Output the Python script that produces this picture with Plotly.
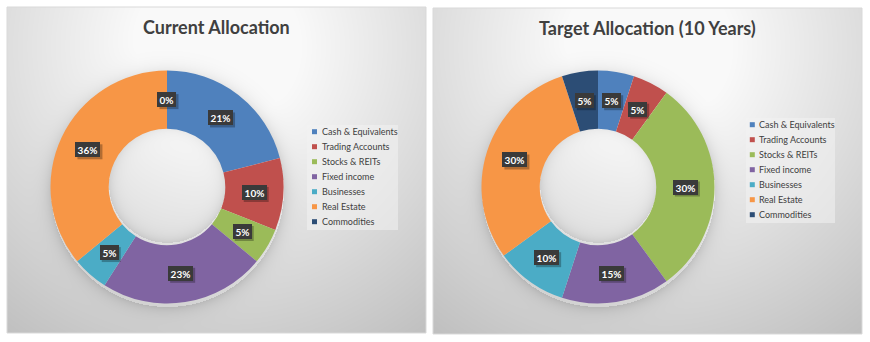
import base64
import math
import struct
import zlib

import numpy as np
import plotly.graph_objects as go

W, H = 870, 342

# ---- data ----
categories = ["Cash & Equivalents", "Trading Accounts", "Stocks & REITs",
              "Fixed income", "Businesses", "Real Estate", "Commodities"]
current_pct = [21, 10, 5, 23, 5, 36, 0]
target_pct = [5, 5, 30, 15, 10, 30, 5]
colors = ["#4F81BD", "#C0504D", "#9BBB59", "#8064A2", "#4BACC6", "#F79646", "#2C4D75"]
titles = ["Current Allocation", "Target Allocation (10 Years)"]

# ---- panel geometry (pixels, origin top-left) ----
panels = [
    dict(frame=(7, 7, 426, 333), center=(167, 187), radius=116.5,
         legend_box=(307, 125, 398, 230), legend_first_y=131.7,
         legend_sq_x=314.5, legend_text_x=319.5, title_xy=(216, 27)),
    dict(frame=(433, 8, 862, 334), center=(598, 187), radius=116.5,
         legend_box=(746, 118, 835, 223), legend_first_y=124.7,
         legend_sq_x=752.3, legend_text_x=756.5, title_xy=(647, 28)),
]
HOLE = 0.5
LEGEND_STEP = 15
TEXT_COLOR = "#404040"
FONT = "Lato"
LABEL_H = 11   # text area height of a data label box
LABEL_PAD = 2


def px(x):
    return x / W


def py(y):
    return 1 - y / H


def png_data_uri(rgb):
    h, w, _ = rgb.shape
    raw = b"".join(b"\x00" + rgb[r].tobytes() for r in range(h))

    def chunk(tag, data):
        c = struct.pack(">I", len(data)) + tag + data
        return c + struct.pack(">I", zlib.crc32(tag + data) & 0xFFFFFFFF)

    png = (b"\x89PNG\r\n\x1a\n"
           + chunk(b"IHDR", struct.pack(">IIBBBBB", w, h, 8, 2, 0, 0, 0))
           + chunk(b"IDAT", zlib.compress(raw, 9))
           + chunk(b"IEND", b""))
    return "data:image/png;base64," + base64.b64encode(png).decode()


def panel_background(p):
    x0, y0, x1, y1 = p["frame"]
    w, h = x1 - x0, y1 - y0
    yy, xx = np.mgrid[0:h, 0:w].astype(float)
    # radial gradient, brightest just below the title
    gx, gy = w / 2, 0.12 * h
    d = np.hypot(xx - gx, yy - gy)
    v = np.clip(267 - 0.211 * d, 0, 250)
    # soft shadow around the ring and inside the hole
    cx, cy = p["center"][0] - x0, p["center"][1] - y0
    r_out = p["radius"]
    r_in = r_out * HOLE
    rr = np.hypot(xx - cx, yy - cy - 3)
    outer = np.where(rr > r_out, 28 * np.exp(-(rr - r_out) / 7), 0)
    rr2 = np.hypot(xx - cx, yy - cy + 3)
    inner = np.where(rr2 < r_in, 22 * np.exp(-(r_in - rr2) / 6), 0)
    v = v - outer - inner
    v = np.clip(v, 0, 255).astype(np.uint8)
    return np.dstack([v, v, v])


fig = go.Figure()
shapes, annotations, images = [], [], []

for p, values, title in zip(panels, [current_pct, target_pct], titles):
    x0, y0, x1, y1 = p["frame"]
    images.append(dict(source=png_data_uri(panel_background(p)), xref="paper", yref="paper",
                       x=px(x0), y=py(y0), sizex=px(x1) - px(x0), sizey=py(y0) - py(y1),
                       xanchor="left", yanchor="top", sizing="stretch", layer="below"))
    shapes.append(dict(type="rect", xref="paper", yref="paper",
                       x0=px(x0), x1=px(x1), y0=py(y1), y1=py(y0),
                       line=dict(color="#d9d9d9", width=1), fillcolor="rgba(0,0,0,0)"))

    cx, cy = p["center"]
    r = p["radius"]
    fig.add_trace(go.Pie(
        labels=categories, values=values, hole=HOLE, sort=False,
        direction="clockwise", rotation=0, textinfo="none", hoverinfo="label+percent",
        marker=dict(colors=colors, line=dict(width=0)), showlegend=False,
        domain=dict(x=[px(cx - r), px(cx + r)], y=[py(cy + r), py(cy - r)]),
    ))

    # data labels in the middle of the ring, each on a dark box with a drop shadow
    total = sum(values)
    cum = 0
    r_mid = r * (1 + HOLE) / 2
    for v in values:
        ang = math.radians((cum + v / 2) / total * 360)
        lx = cx + r_mid * math.sin(ang)
        ly = cy - r_mid * math.cos(ang)
        txt = f"{round(100 * v / total)}%"
        tw = 6 * len(txt) + 3
        bw = tw + 2 * LABEL_PAD
        bh = LABEL_H + 2 * LABEL_PAD
        shapes.append(dict(type="rect", xref="paper", yref="paper",
                           x0=px(lx - bw / 2 + 2), x1=px(lx + bw / 2 + 2),
                           y0=py(ly + bh / 2 + 2), y1=py(ly - bh / 2 + 2),
                           line=dict(width=0), fillcolor="rgba(0,0,0,0.28)"))
        annotations.append(dict(text=f"<b>{txt}</b>", xref="paper", yref="paper",
                                x=px(lx), y=py(ly), showarrow=False,
                                xanchor="center", yanchor="middle",
                                width=tw, height=LABEL_H, borderpad=LABEL_PAD, borderwidth=0,
                                bgcolor="#3a3a3a",
                                font=dict(family=FONT, size=10, color="white")))
        cum += v

    # title
    tx, ty = p["title_xy"]
    annotations.append(dict(text=f"<b>{title}</b>", xref="paper", yref="paper", x=px(tx), y=py(ty),
                            showarrow=False, xanchor="center", yanchor="middle",
                            font=dict(family=FONT, size=18, color=TEXT_COLOR)))

    # legend
    bx0, by0, bx1, by1 = p["legend_box"]
    shapes.append(dict(type="rect", xref="paper", yref="paper",
                       x0=px(bx0), x1=px(bx1), y0=py(by1), y1=py(by0),
                       line=dict(width=0), fillcolor="rgba(242,242,242,0.55)"))
    for i, (cat, col) in enumerate(zip(categories, colors)):
        yc = p["legend_first_y"] + i * LEGEND_STEP
        sx = p["legend_sq_x"]
        shapes.append(dict(type="rect", xref="paper", yref="paper",
                           x0=px(sx - 2.5), x1=px(sx + 2.5), y0=py(yc + 2.5), y1=py(yc - 2.5),
                           line=dict(width=0), fillcolor=col))
        annotations.append(dict(text=cat, xref="paper", yref="paper", x=px(p["legend_text_x"]),
                                y=py(yc), showarrow=False, xanchor="left", yanchor="middle",
                                font=dict(family=FONT, size=9, color=TEXT_COLOR)))

fig.update_layout(
    width=W, height=H, margin=dict(l=0, r=0, t=0, b=0),
    paper_bgcolor="white", plot_bgcolor="white",
    shapes=shapes, annotations=annotations, images=images,
)

fig.write_html("out.html")
